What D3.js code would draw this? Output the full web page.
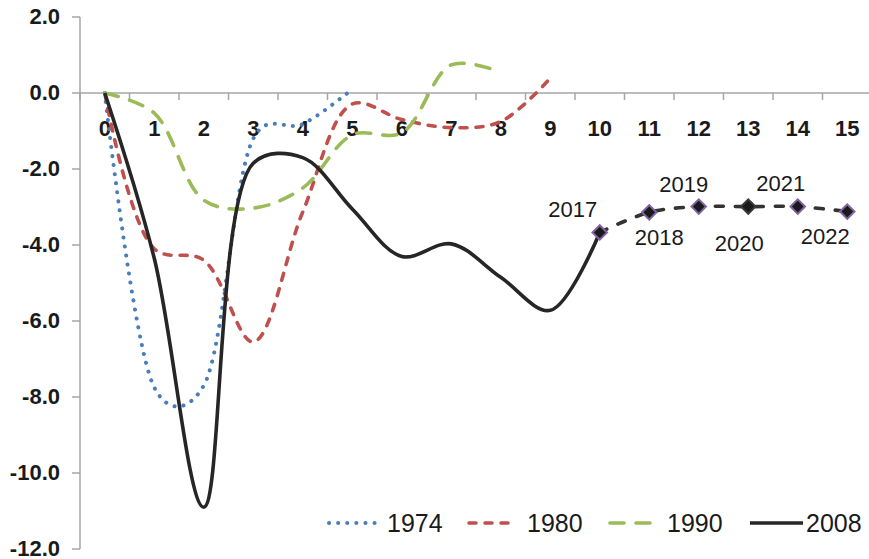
<!doctype html>
<html>
<head>
    <title>chart</title>
    <script src="https://d3js.org/d3.v7.min.js"></script>
</head>
<style>
    body { margin: 0; background: #fff; }
    .tick-label { font: bold 22px "Liberation Sans", Arial, sans-serif; fill: #1a1a1a; }
    .year-label { font: 22px "Liberation Sans", Arial, sans-serif; fill: #1a1a1a; }
    .legend-label { font: 25px "Liberation Sans", Arial, sans-serif; fill: #1a1a1a; }
</style>
<body>
<script>

    // x categories and y ticks
    var xCats = ['0', '1', '2', '3', '4', '5', '6', '7', '8', '9', '10', '11', '12', '13', '14', '15'];
    var yTicks = [-12, -10, -8, -6, -4, -2, 0, 2];

    // series values, one per category starting at 0
    var v1974 = [0, -7.75, -7.7, -1.2, -0.82, 0.1];
    var v1980 = [0, -4.1, -4.4, -6.55, -3.13, -0.29, -0.7, -0.91, -0.75, 0.39];
    var v1990 = [0, -0.53, -2.82, -3.03, -2.5, -1.1, -1.05, 0.74, 0.55];
    var v2008 = [0, -4.35, -10.9, -1.85, -1.7, -3.05, -4.3, -3.97, -4.85, -5.72, -3.67];

    // projection from category 10 onwards
    var projCats = ['10', '11', '12', '13', '14', '15'];
    var projValues = [-3.67, -3.14, -2.99, -2.99, -2.99, -3.12];
    var projYears = ['2017', '2018', '2019', '2020', '2021', '2022'];

    var legendNames = ['1974', '1980', '1990', '2008'];

    // canvas
    var width = 869, height = 559;
    var svg = d3.select('body').append('svg')
                .attr('width', width)
                .attr('height', height);

    var xScale = d3.scaleBand().domain(xCats).range([80, 872]).padding(0);
    var yScale = d3.scaleLinear().domain([-12, 2]).range([549, 17]);
    var cx = function(c) { return xScale(c) + xScale.bandwidth() / 2; };

    var axisColor = '#a6a6a6';

    // y axis line and ticks
    svg.append('line')
       .attr('x1', 80).attr('x2', 80)
       .attr('y1', yScale(2)).attr('y2', yScale(-12))
       .attr('stroke', axisColor).attr('stroke-width', 1.5);

    svg.selectAll('.ytick').data(yTicks).enter().append('line')
       .attr('class', 'ytick')
       .attr('x1', 72).attr('x2', 80)
       .attr('y1', function(d) { return yScale(d); })
       .attr('y2', function(d) { return yScale(d); })
       .attr('stroke', axisColor).attr('stroke-width', 1.5);

    svg.selectAll('.ylab').data(yTicks).enter().append('text')
       .attr('class', 'tick-label')
       .attr('x', 60)
       .attr('y', function(d) { return yScale(d) - 1; })
       .attr('dy', '0.36em')
       .attr('text-anchor', 'end')
       .text(function(d) { return d.toFixed(1); });

    // x axis at zero
    svg.append('line')
       .attr('x1', 80).attr('x2', width)
       .attr('y1', yScale(0)).attr('y2', yScale(0))
       .attr('stroke', axisColor).attr('stroke-width', 1.5);

    svg.selectAll('.xtick').data(xCats).enter().append('line')
       .attr('class', 'xtick')
       .attr('x1', function(d) { return xScale(d); })
       .attr('x2', function(d) { return xScale(d); })
       .attr('y1', yScale(0)).attr('y2', yScale(0) + 7)
       .attr('stroke', axisColor).attr('stroke-width', 1.5);

    svg.selectAll('.xlab').data(xCats).enter().append('text')
       .attr('class', 'tick-label')
       .attr('x', function(d) { return cx(d); })
       .attr('y', 136)
       .attr('text-anchor', 'middle')
       .text(function(d) { return d; });

    // line generator, smoothed like the spreadsheet
    function makeLine(alpha) {
        return d3.line()
                 .x(function(d) { return cx(d[0]); })
                 .y(function(d) { return yScale(d[1]); })
                 .curve(d3.curveCatmullRom.alpha(alpha));
    }
    var line = makeLine(0.5);

    function pairs(values, cats) {
        return values.map(function(v, i) { return [cats[i], v]; });
    }

    var styles = [
        { data: v1974, color: '#4a7ebb', dash: '0.1,9', width: 4, alpha: 0.2 },
        { data: v1980, color: '#c0504d', dash: '7,9', width: 3.6, alpha: 0.5 },
        { data: v1990, color: '#9bbb59', dash: '14,12', width: 3.6, alpha: 0.5 },
        { data: v2008, color: '#262626', dash: null, width: 3.6, alpha: 0.5 }
    ];

    styles.forEach(function(s) {
        svg.append('path')
           .attr('d', makeLine(s.alpha)(pairs(s.data, xCats)))
           .attr('fill', 'none')
           .attr('stroke', s.color)
           .attr('stroke-width', s.width)
           .attr('stroke-linecap', s.dash ? 'round' : 'butt')
           .attr('stroke-dasharray', s.dash);
    });

    // projection dashed line
    var projPairs = pairs(projValues, projCats);
    svg.append('path')
       .attr('d', line(projPairs))
       .attr('fill', 'none')
       .attr('stroke', '#333')
       .attr('stroke-width', 3.6)
       .attr('stroke-linecap', 'round')
       .attr('stroke-dasharray', '8,12');

    // diamond markers
    var diamond = d3.symbol().type(d3.symbolSquare).size(105);
    svg.selectAll('.marker').data(projPairs).enter().append('path')
       .attr('class', 'marker')
       .attr('d', diamond)
       .attr('transform', function(d) { return 'translate(' + cx(d[0]) + ',' + yScale(d[1]) + ') rotate(45)'; })
       .attr('fill', '#1a1a1a')
       .attr('stroke', function(d, i) { return i === 3 ? '#3a3a3a' : '#8064a2'; })
       .attr('stroke-width', 2);

    // year labels beside markers
    var labelOffsets = [[-27, -15], [10, 33], [-15, -15], [-9, 44], [-17, -16], [-22, 32]];
    svg.selectAll('.year-label').data(projPairs).enter().append('text')
       .attr('class', 'year-label')
       .attr('x', function(d, i) { return cx(d[0]) + labelOffsets[i][0]; })
       .attr('y', function(d, i) { return yScale(d[1]) + labelOffsets[i][1]; })
       .attr('text-anchor', 'middle')
       .text(function(d, i) { return projYears[i]; });

    // legend
    var legendX = [[329, 376, 387], [469, 515, 527], [610, 656, 667], [750, 803, 806]];
    var legendY = 523;
    styles.forEach(function(s, i) {
        svg.append('line')
           .attr('x1', legendX[i][0]).attr('x2', legendX[i][1])
           .attr('y1', legendY).attr('y2', legendY)
           .attr('stroke', s.color)
           .attr('stroke-width', s.width)
           .attr('stroke-linecap', s.dash ? 'round' : 'butt')
           .attr('stroke-dasharray', s.dash);
        svg.append('text')
           .attr('class', 'legend-label')
           .attr('x', legendX[i][2])
           .attr('y', legendY)
           .attr('dy', '0.36em')
           .text(legendNames[i]);
    });

</script>
</body>
</html>
